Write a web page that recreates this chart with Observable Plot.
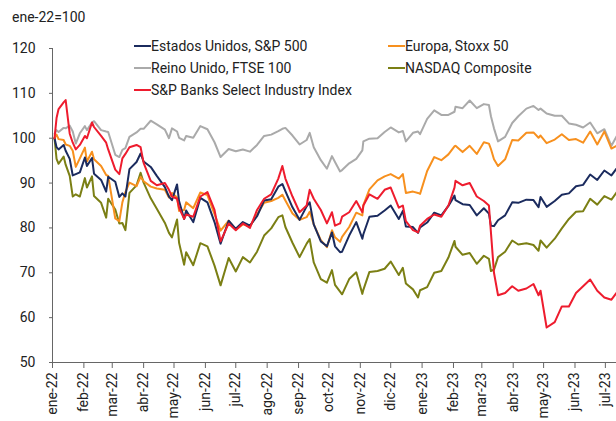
<!DOCTYPE html>
<html>
<head>
<meta charset="utf-8">
<script src="https://cdn.jsdelivr.net/npm/d3@7"></script>
<script src="https://cdn.jsdelivr.net/npm/@observablehq/plot@0.6"></script>
<style>
  html, body { margin: 0; padding: 0; background: #fff; }
  #wrap { position: relative; width: 616px; height: 421px; font-family: Roboto, "Noto Sans", sans-serif; color: #222; overflow: hidden; }
  #chart { position: absolute; left: 0; top: 0; }
  #title { position: absolute; left: 12px; top: 8px; font-size: 14px; line-height: 18px; }
  .leg { position: absolute; font-size: 14px; line-height: 18px; white-space: nowrap; display: flex; align-items: center; }
  .leg span.sw { display: inline-block; width: 17px; height: 2px; margin-right: 0px; }
</style>
</head>
<body>
<div id="wrap">
  <div id="chart"></div>
  <div id="title">ene-22=100</div>
  <div id="legend"></div>
</div>
<script>
// ---- data (index, ene-22 = 100) ----
const dates = [
  "2022-01-03","2022-01-05","2022-01-07","2022-01-12","2022-01-14","2022-01-18","2022-01-21","2022-01-24","2022-01-28",
  "2022-02-02","2022-02-04","2022-02-09","2022-02-11","2022-02-18","2022-02-23","2022-02-25",
  "2022-03-04","2022-03-08","2022-03-11","2022-03-14","2022-03-18","2022-03-25","2022-03-29",
  "2022-04-01","2022-04-08","2022-04-14","2022-04-22","2022-04-26","2022-04-29",
  "2022-05-04","2022-05-06","2022-05-11","2022-05-13","2022-05-20","2022-05-27",
  "2022-06-03","2022-06-10","2022-06-16","2022-06-24",
  "2022-07-01","2022-07-08","2022-07-15","2022-07-22","2022-07-29",
  "2022-08-05","2022-08-12","2022-08-16","2022-08-19","2022-08-26",
  "2022-09-02","2022-09-09","2022-09-12","2022-09-16","2022-09-23","2022-09-29",
  "2022-10-04","2022-10-07","2022-10-12","2022-10-14","2022-10-21","2022-10-28",
  "2022-11-03","2022-11-04","2022-11-10","2022-11-18","2022-11-25",
  "2022-12-01","2022-12-09","2022-12-13","2022-12-16","2022-12-23","2022-12-28","2022-12-30",
  "2023-01-06","2023-01-13","2023-01-20","2023-01-27",
  "2023-02-02","2023-02-03","2023-02-10","2023-02-17","2023-02-24",
  "2023-03-03","2023-03-08","2023-03-10","2023-03-13","2023-03-17","2023-03-24","2023-03-31",
  "2023-04-06","2023-04-14","2023-04-21","2023-04-26","2023-04-28",
  "2023-05-04","2023-05-12","2023-05-19","2023-05-26",
  "2023-06-02","2023-06-09","2023-06-16","2023-06-23","2023-06-30",
  "2023-07-07","2023-07-12"
];

const sp500 = [
  100,98.0,97.5,98.5,97.2,95.4,91.7,92.0,92.4,
  95.7,93.8,95.6,92.1,90.7,88.1,91.4,
  90.3,86.9,87.7,87.0,93.1,94.7,96.6,
  94.8,93.6,91.6,89.1,87.0,86.2,
  89.7,86.0,82.0,83.9,81.3,86.7,
  85.7,81.3,76.5,81.6,
  79.8,81.3,80.5,82.6,86.1,
  86.4,89.2,89.8,88.2,84.6,
  81.8,84.8,85.7,80.8,77.0,75.9,
  79.0,75.9,74.6,74.7,78.3,81.3,
  77.6,78.6,82.5,82.7,83.9,
  85.0,82.0,83.8,80.3,80.2,78.9,80.1,
  81.2,83.4,82.8,84.9,
  87.2,86.2,85.3,85.1,82.8,
  84.4,83.2,80.5,80.4,81.7,82.8,85.7,
  85.6,86.3,86.2,84.6,86.9,
  84.7,86.0,87.4,87.7,
  89.3,89.6,91.9,90.7,92.8,
  91.7,93.2
];

const stoxx50 = [
  100,100.8,99.8,99.6,98.6,98.3,97.2,93.6,95.5,
  97.9,94.8,97.0,95.3,93.8,91.8,91.6,
  82.1,81.5,85.7,88.0,90.1,89.3,91.4,
  90.4,89.2,88.8,88.5,86.8,87.8,
  86.8,83.8,84.0,85.7,84.4,87.9,
  87.3,83.1,79.4,81.6,
  79.6,80.8,80.3,83.0,85.6,
  86.0,86.7,87.4,86.1,83.2,
  81.8,82.4,83.6,80.8,77.3,75.7,
  79.5,77.9,76.9,78.0,80.2,83.4,
  82.8,85.1,88.6,90.6,91.5,
  92.0,91.0,92.0,87.8,88.1,87.8,87.6,
  92.7,95.8,95.1,96.4,
  98.2,98.3,96.9,98.3,96.5,
  99.1,98.8,97.6,95.3,93.8,95.3,99.6,
  99.5,101.2,101.3,100.1,100.6,
  98.9,99.7,100.9,99.6,
  99.8,99.0,101.5,98.6,101.5,
  97.7,98.3
];

const ftse100 = [
  101.0,101.8,101.4,102.3,102.2,102.8,101.5,98.8,101.1,
  102.7,101.8,103.5,103.8,101.8,101.5,101.4,
  96.3,95.8,97.4,97.8,100.3,101.3,102.1,
  102.1,103.9,103.1,101.9,100.0,102.2,
  101.5,100.1,99.5,100.5,100.1,102.7,
  102.0,99.1,95.8,97.6,
  97.1,97.5,97.0,98.5,100.5,
  100.8,101.6,102.1,102.3,100.6,
  98.6,99.6,101.2,98.0,95.1,93.2,
  96.0,94.7,92.6,92.9,94.4,95.4,
  97.3,99.3,99.9,100.0,101.4,
  102.4,101.3,101.6,99.3,101.2,101.5,100.9,
  104.3,106.2,105.2,105.2,
  105.9,107.0,106.7,108.4,106.7,
  107.6,107.4,104.9,102.2,99.3,100.3,103.4,
  104.9,106.6,107.2,106.3,106.6,
  105.5,105.0,105.0,103.3,
  103.0,102.4,103.5,101.1,102.0,
  98.3,100.4
];

const nasdaq = [
  100,95.4,94.3,95.9,94.1,91.6,87.0,87.5,87.0,
  91.1,89.0,91.5,87.1,85.6,82.3,86.5,
  84.1,81.0,81.1,79.5,87.8,89.5,92.3,
  90.1,86.6,84.3,81.1,78.9,77.9,
  81.9,76.7,71.8,74.6,71.7,76.6,
  75.9,71.6,67.2,73.3,
  70.3,73.5,72.3,74.7,78.3,
  79.9,82.4,82.8,80.2,76.7,
  73.5,76.5,77.5,72.3,68.6,67.8,
  70.6,67.3,65.8,65.2,68.6,70.1,
  65.3,66.2,70.2,70.4,70.9,
  72.5,69.5,71.1,67.6,66.3,64.5,66.1,
  66.8,70.0,70.4,73.4,
  77.1,75.8,74.0,74.4,72.0,
  73.8,73.1,70.4,70.7,73.5,74.7,77.2,
  76.3,76.6,76.2,74.9,77.2,
  75.6,77.6,79.9,82.0,
  83.6,83.7,86.5,85.2,87.1,
  86.3,87.9
];

const banks = [
  100,104.5,106.5,108.0,108.5,101.0,99.0,97.5,98.5,
  100.5,100.0,103.5,102.5,100.5,99.0,97.5,
  93.0,92.0,95.5,96.5,98.0,98.5,98.0,
  94.5,90.5,89.5,90.0,88.5,87.0,
  86.5,84.5,82.0,83.0,82.5,87.0,
  88.0,84.0,77.0,81.0,
  79.5,81.0,80.0,84.0,86.5,
  87.5,91.0,93.8,91.0,87.0,
  83.5,85.0,88.5,86.5,84.0,81.0,
  83.5,80.5,81.0,82.5,83.5,86.0,
  83.5,85.0,87.5,86.5,88.5,
  89.0,84.5,85.0,81.5,79.5,79.0,80.5,
  82.0,83.0,82.5,85.0,
  89.0,90.5,89.5,90.0,87.0,
  86.0,85.0,79.0,70.0,65.0,65.5,67.0,
  66.0,66.5,67.5,65.0,66.0,
  57.8,59.0,62.5,62.5,
  65.5,67.0,68.5,66.0,64.5,
  64.0,65.5
];

const seriesNames = [
  "Estados Unidos, S&P 500",
  "Europa, Stoxx 50",
  "Reino Unido, FTSE 100",
  "NASDAQ Composite",
  "S&P Banks Select Industry Index"
];
const seriesColors = ["#1b2b5e", "#f7901e", "#aaaaaa", "#7b7f14", "#ee1c2e"];
const seriesValues = [sp500, stoxx50, ftse100, nasdaq, banks];

const yTicks = [50, 60, 70, 80, 90, 100, 110, 120];
const monthLabels = ["ene","feb","mar","abr","may","jun","jul","ago","sep","oct","nov","dic"];

// draw order: grey, olive, orange, navy, red
const drawOrder = [2, 3, 1, 0, 4];

const rows = [];
for (const i of drawOrder) {
  dates.forEach((d, k) => rows.push({date: new Date(d), value: seriesValues[i][k], series: seriesNames[i]}));
}

const xStart = new Date("2022-01-01");
const xEnd = new Date("2023-07-12");
const monthTicks = d3.utcMonth.range(xStart, new Date("2023-07-02"));

const chart = Plot.plot({
  width: 616,
  height: 421,
  marginTop: 48,
  marginBottom: 59,
  marginLeft: 52,
  marginRight: 0,
  style: {fontFamily: "Roboto, 'Noto Sans', sans-serif", color: "#222", background: "transparent"},
  x: {type: "utc", domain: [xStart, xEnd]},
  y: {domain: [50, 120]},
  color: {domain: seriesNames, range: seriesColors},
  marks: [
    Plot.axisY(yTicks, {tickSize: 3, tickPadding: 14, fontSize: 14, label: null, stroke: "#666"}),
    Plot.axisX(monthTicks, {
      tickFormat: d => monthLabels[d.getUTCMonth()] + "-" + String(d.getUTCFullYear()).slice(2),
      tickRotate: -90, tickSize: 6, tickPadding: 4, fontSize: 14, label: null, stroke: "#666"
    }),
    Plot.ruleX([xStart], {y1: 50, y2: 120, stroke: "#666"}),
    Plot.ruleY([50], {stroke: "#666"}),
    Plot.line(rows, {x: "date", y: "value", z: "series", stroke: "series", strokeWidth: 2, clip: true, curve: "linear"})
  ]
});
document.getElementById("chart").appendChild(chart);

// legend
const legendPos = [
  {left: 134, top: 37},
  {left: 388, top: 37},
  {left: 134, top: 59},
  {left: 388, top: 59},
  {left: 134, top: 81}
];
const legend = document.getElementById("legend");
seriesNames.forEach((name, i) => {
  const div = document.createElement("div");
  div.className = "leg";
  div.style.left = legendPos[i].left + "px";
  div.style.top = legendPos[i].top + "px";
  const sw = document.createElement("span");
  sw.className = "sw";
  sw.style.background = seriesColors[i];
  div.appendChild(sw);
  div.appendChild(document.createTextNode(name));
  legend.appendChild(div);
});
</script>
</body>
</html>
